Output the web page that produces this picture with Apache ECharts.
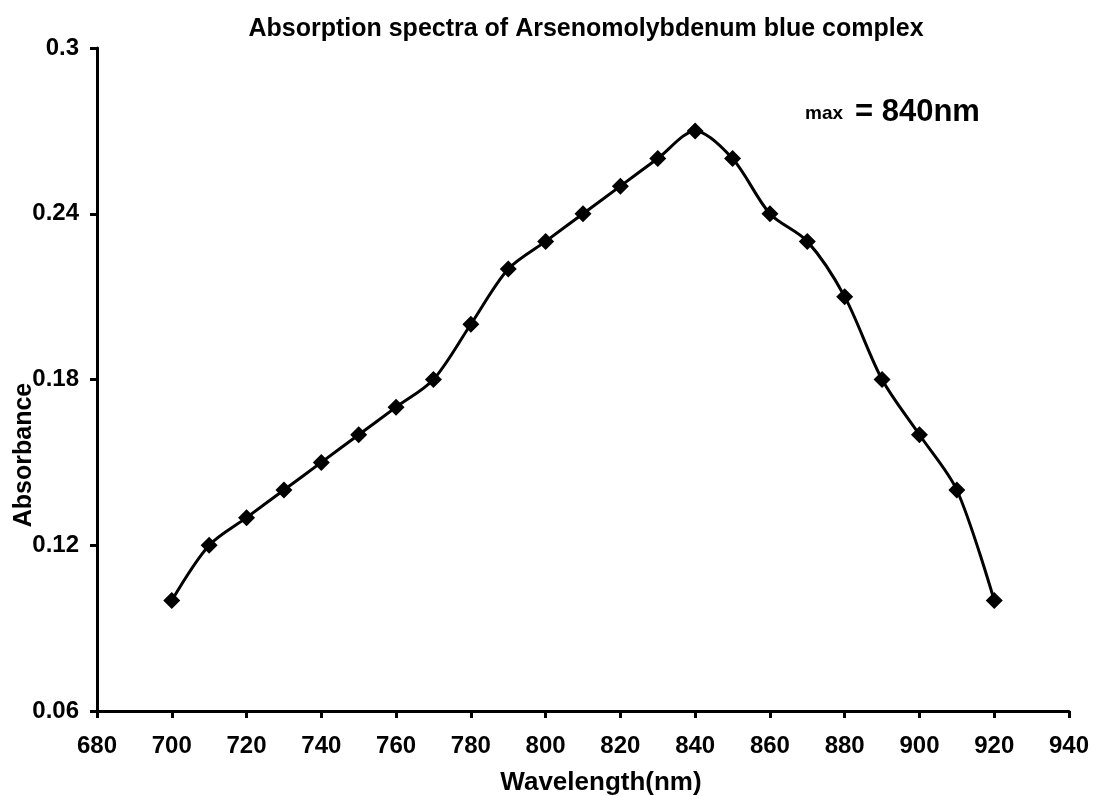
<!DOCTYPE html>
<html>
<head>
<meta charset="utf-8">
<script src="https://cdn.jsdelivr.net/npm/echarts@6/dist/echarts.min.js"></script>
<style>
html,body{margin:0;padding:0;background:#fff;}
#chart{width:1093px;height:796px;}
</style>
</head>
<body>
<div id="chart"></div>
<script>
var wavelengths = [700,710,720,730,740,750,760,770,780,790,800,810,820,830,840,850,860,870,880,890,900,910,920];
var absorbance = [0.10,0.12,0.13,0.14,0.15,0.16,0.17,0.18,0.20,0.22,0.23,0.24,0.25,0.26,0.27,0.26,0.24,0.23,0.21,0.18,0.16,0.14,0.10];
var titleText = 'Absorption spectra of Arsenomolybdenum blue complex';
var xName = 'Wavelength(nm)';
var yName = 'Absorbance';
var noteSmall = 'max';
var noteBig = '= 840nm';

var font = 'Liberation Sans, Arial, sans-serif';
var chart = echarts.init(document.getElementById('chart'));
var seriesData = wavelengths.map(function(w,i){return [w, absorbance[i]];});
chart.setOption({
  animation:false,
  backgroundColor:'#fff',
  title:{text:titleText,left:581,top:12,textAlign:'center',
    textStyle:{fontFamily:font,fontWeight:'bold',fontSize:25,color:'#000'}},
  grid:{left:97,right:24,top:48,bottom:85},
  xAxis:{type:'value',min:680,max:940,interval:20,
    axisLine:{lineStyle:{color:'#000',width:3}},
    axisTick:{show:true,length:7,lineStyle:{color:'#000',width:3}},
    axisLabel:{fontFamily:font,fontWeight:'bold',fontSize:24,color:'#000',margin:23},
    splitLine:{show:false}},
  yAxis:{type:'value',min:0.06,max:0.3,interval:0.06,
    axisLine:{show:true,lineStyle:{color:'#000',width:3}},
    axisTick:{show:true,length:7,lineStyle:{color:'#000',width:3}},
    axisLabel:{fontFamily:font,fontWeight:'bold',fontSize:24,color:'#000',margin:18,
      formatter:function(v){return String(+v.toFixed(2));}},
    splitLine:{show:false}},
  graphic:[
    {type:'text',x:601,y:783,
      style:{text:xName,fontFamily:font,fontWeight:'bold',fontSize:26,fill:'#000',align:'center',verticalAlign:'middle'}},
    {type:'text',x:24,y:455,rotation:Math.PI/2,
      style:{text:yName,fontFamily:font,fontWeight:'bold',fontSize:25,fill:'#000',align:'center',verticalAlign:'middle'}},
    {type:'text',x:805,y:114,
      style:{text:noteSmall,fontFamily:font,fontWeight:'bold',fontSize:19,fill:'#000',align:'left',verticalAlign:'middle'}},
    {type:'text',x:855,y:112,
      style:{text:noteBig,fontFamily:font,fontWeight:'bold',fontSize:31,fill:'#000',align:'left',verticalAlign:'middle'}}
  ],
  series:[{type:'line',data:seriesData,smooth:0.3,
    lineStyle:{color:'#000',width:3},
    symbol:'path://M0,-1L1,0L0,1L-1,0Z',symbolSize:17,
    itemStyle:{color:'#000'}}]
});
</script>
</body>
</html>
